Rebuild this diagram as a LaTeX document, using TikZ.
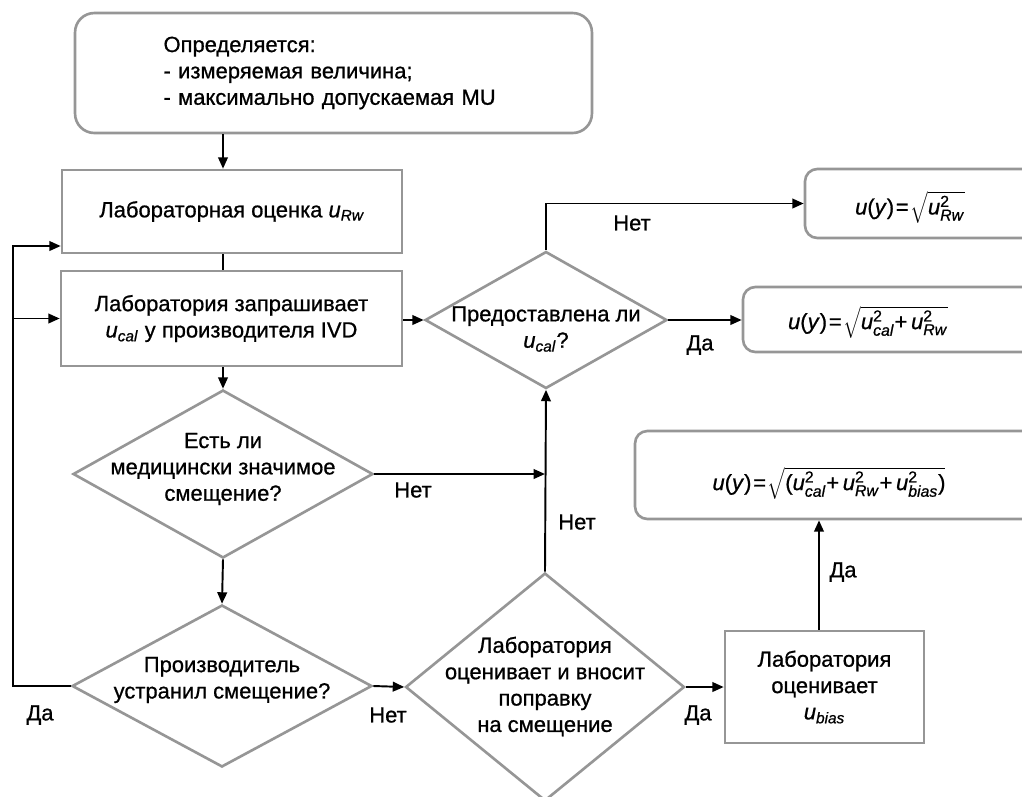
\documentclass[tikz,border=0pt]{standalone}
\usepackage{fontspec}
\setmainfont{Liberation Sans}[FakeBold=0.8]
\usetikzlibrary{shapes.geometric,arrows.meta}
\definecolor{boxgray}{RGB}{150,150,150}
\newcommand\usub[1]{\textit{u}\textsubscript{\textit{#1}}}
\newcommand\supsz{\fontsize{9}{9}\selectfont}
\newcommand\usq[1]{$\mbox{\textit{u}}^{\mbox{\supsz 2}}_{\mbox{\supsz\textit{#1}}}$}
\newcommand\uy{\textit{u}(\textit{y})\kern1pt=\kern1pt}

\begin{document}
\begin{tikzpicture}[x=0.02cm, y=-0.02cm, >={Triangle[length=6.5pt,width=5.5pt]},
  font=\fontsize{12.5}{15}\selectfont,
  box/.style={draw=boxgray, line width=1.5pt, inner sep=0pt, align=center},
  rbox/.style={box, rounded corners=7pt},
  dia/.style={diamond, draw=boxgray, line width=1.5pt, inner sep=0pt},
  txt/.style={align=center, inner sep=0pt},
  link/.style={line width=1.1pt}]
  \useasboundingbox (0,0) rectangle (1022,796);
  \clip (0,0) rectangle (1022,796);

  % boxes
  \node[rbox, rounded corners=11pt, minimum width=10.34cm, minimum height=2.4cm,
        text width=6.8cm, align=left] (def) at (333.5,73)
        {Определяется:\\- измеряемая величина;\\- максимально допускаемая MU};
  \node[box, minimum width=6.8cm, minimum height=1.66cm] (est) at (232,211.5)
        {Лабораторная оценка \usub{Rw}};
  \node[box, minimum width=6.82cm, minimum height=1.9cm] (req) at (231.5,318.5)
        {Лаборатория запрашивает\\\usub{cal} у производителя IVD};
  \node[box, minimum width=3.98cm, minimum height=2.24cm] (bias) at (824.5,687)
        {Лаборатория\\оценивает\\\usub{bias}};

  % decisions
  \node[dia, minimum width=4.84cm, minimum height=2.74cm] (prov) at (546,320) {};
  \node[txt] (provtxt) at (546,329) {Предоставлена ли\\\usub{cal}?};
  \node[dia, minimum width=6cm, minimum height=3.36cm] (sig) at (223,474) {};
  \node[txt] (sigtxt) at (223,469) {Есть ли\\медицински значимое\\смещение?};
  \node[dia, minimum width=6cm, minimum height=3.24cm] (fix) at (222,686) {};
  \node[txt] (fixtxt) at (222,680) {Производитель\\устранил смещение?};
  \node[dia, minimum width=5.58cm, minimum height=4.56cm] (corr) at (545,687) {};
  \node[txt] (corrtxt) at (545,686.5) {Лаборатория\\оценивает и вносит\\поправку\\на смещение};

  % results
  \node[rbox, minimum width=4.8cm, minimum height=1.38cm] (resA) at (925,203.5) {};
  \node[txt] (resAtxt) at (910,207) {\uy$\sqrt{\mbox{\usq{Rw}}}$};
  \node[rbox, minimum width=6.04cm, minimum height=1.3cm] (resB) at (894,319.5) {};
  \node[txt] (resBtxt) at (868,322) {\uy$\sqrt{\mbox{\usq{cal}+\,\usq{Rw}}}$};
  \node[rbox, minimum width=8.2cm, minimum height=1.76cm] (resC) at (840,475) {};
  \node[txt] (resCtxt) at (829,483)
        {\uy$\sqrt{\mbox{(\usq{cal}+\,\usq{Rw}+\,\usq{bias})}}$};

  % connectors
  \coordinate (loop) at (13,246);
  \draw[link,->] (def.south -| sig) -- (est.north -| sig);
  \draw[link] (est.south -| sig) -- (req.north -| sig);
  \draw[link,->] (req.south -| sig) -- (sig.north);
  \draw[link,->] (sig.south) -- (fix.north);
  \draw[link,->] (fix.west) -| (loop) -- (loop -| est.west);
  \draw[link,->] (loop |- req.west) -- (req.west);
  \draw[link,->] (req.east |- prov.west) -- (prov.west);
  \draw[link,->] (prov.north) |- (resA.west);
  \draw[link,->] (prov.east) -- (prov.east -| resB.west);
  \draw[link,->] (sig.east) -- (sig.east -| corr.north);
  \draw[link,->] (corr.north) -- (prov.south);
  \draw[link,->] (fix.east) -- (corr.west);
  \draw[link,->] (corr.east) -- (bias.west);
  \draw[link,->] (819,0 |- bias.north) -- (819,0 |- resC.south);

  % labels
  \node (noA) at (632,223) {Нет};
  \node (yesA) at (700,345) {Да};
  \node (noB) at (413,490) {Нет};
  \node (noC) at (577,522) {Нет};
  \node (noD) at (388,715) {Нет};
  \node (yesB) at (698,715) {Да};
  \node (yesC) at (843,572) {Да};
  \node (yesD) at (40,715) {Да};
\end{tikzpicture}
\end{document}
